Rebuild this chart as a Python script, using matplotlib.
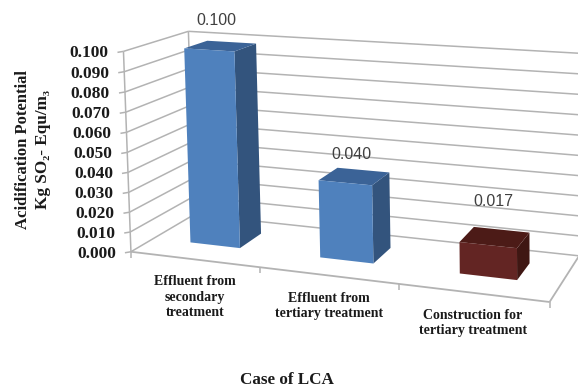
import numpy as np
import matplotlib
matplotlib.use("Agg")
import matplotlib.pyplot as plt

# Data
categories = ["Effluent from\nsecondary\ntreatment",
              "Effluent from\ntertiary treatment",
              "Construction for\ntertiary treatment"]
values = [0.100, 0.040, 0.017]
value_labels = ["0.100", "0.040", "0.017"]
yticks = [0.000, 0.010, 0.020, 0.030, 0.040, 0.050, 0.060, 0.070, 0.080, 0.090, 0.100]
ytick_labels = ["0.000", "0.010", "0.020", "0.030", "0.040", "0.050",
                "0.060", "0.070", "0.080", "0.090", "0.100"]

# Colores de cada barra: frente, lado, tapa
front_colors = ["#4f81bd", "#4f81bd", "#632523"]
side_colors = ["#33547d", "#33547d", "#3f1713"]
top_colors = ["#3b6397", "#3b6397", "#4c1b17"]
grid_color = "#b3b3b3"

# Esquinas de la caja 3D en la imagen, para calibrar la perspectiva
# (categoria, valor, profundidad) -> pixel
world = [(0, 0, 0), (3, 0, 0), (0, 0, 1), (3, 0, 1), (0, .1, 0), (0, .1, 1), (3, .1, 1)]
pixel = [(132, 252), (550, 301), (193, 214), (579, 257), (122, 52), (190, 31), (579, 53)]

rows = []
for (c, v, d), (px, py) in zip(world, pixel):
    w = [c, v * 10, d, 1]
    rows.append(w + [0, 0, 0, 0] + [-px * a for a in w])
    rows.append([0, 0, 0, 0] + w + [-py * a for a in w])
P = np.linalg.svd(np.array(rows, dtype=float))[2][-1].reshape(3, 4)


def proj(c, v, d):
    h = P @ np.array([c, v * 10, d, 1.0])
    return h[0] / h[2], h[1] / h[2]


fig = plt.figure(figsize=(5.78, 3.89), dpi=100)
ax = fig.add_axes([0, 0, 1, 1])
ax.set_xlim(0, 578)
ax.set_ylim(389, 0)
ax.axis("off")


def line(a, b, lw=1.1):
    ax.plot([a[0], b[0]], [a[1], b[1]], color=grid_color, lw=lw, zorder=1,
            solid_capstyle="butt", clip_on=True)


# Paredes y piso
for t in yticks:
    front = proj(0, t, 0)
    back = proj(0, t, 1)
    right = proj(3, t, 1)
    line((front[0] - 6, front[1] + 1), front)
    line(front, back)
    line(back, right)
line(proj(0, 0, 0), proj(0, .1, 0))
line(proj(0, 0, 1), proj(0, .1, 1))
line(proj(0, 0, 0), proj(3, 0, 0), lw=1.3)
line(proj(3, 0, 0), proj(3, 0, 1), lw=1.3)
for c in range(4):
    x, y = proj(c, 0, 0)
    line((x, y), (x, y + 6))

# Barras
bar_width = 0.39
bar_shift = 0.035
bar_base = 0.002
d0, d1 = 0.26, 0.63
label_offsets = [(-11, -21), (-7, -15), (-3, -28)]
for i, val in enumerate(values):
    c0 = i + 0.5 + bar_shift - bar_width / 2
    c1 = i + 0.5 + bar_shift + bar_width / 2
    ax.fill(*zip(proj(c1, bar_base, d0), proj(c1, bar_base, d1), proj(c1, val, d1), proj(c1, val, d0)),
            color=side_colors[i], lw=0, zorder=3)
    ax.fill(*zip(proj(c0, val, d0), proj(c1, val, d0), proj(c1, val, d1), proj(c0, val, d1)),
            color=top_colors[i], lw=0, zorder=3)
    ax.fill(*zip(proj(c0, bar_base, d0), proj(c1, bar_base, d0), proj(c1, val, d0), proj(c0, val, d0)),
            color=front_colors[i], lw=0, zorder=4)
    lx, ly = proj(i + 0.5, val, d1)
    ax.text(lx + label_offsets[i][0], ly + label_offsets[i][1], value_labels[i],
            ha="center", va="center", fontsize=11.5,
            family="Liberation Sans", color="#404040", zorder=5)

# Etiquetas del eje Y
for t, lab in zip(yticks, ytick_labels):
    x, y = proj(0, t, 0)
    ax.text(x - 15, y + 2, lab, ha="right", va="center", fontsize=12.5,
            family="Liberation Serif", weight="bold", color="#1a1a1a")

# Etiquetas de categorias
cat_pos = [(195, 297), (329, 306), (473, 323)]
for (x, y), lab in zip(cat_pos, categories):
    ax.text(x, y, lab, ha="center", va="center", fontsize=10, linespacing=1.25,
            family="Liberation Serif", weight="bold", color="#1a1a1a")

ax.text(23, 149, "Acidification Potential", rotation=90, ha="center", va="center",
        fontsize=12, family="Liberation Serif", weight="bold", color="#1a1a1a")
ax.text(43, 149, "Kg SO\u2082- Equ/m\u2083", rotation=90, ha="center", va="center",
        fontsize=12.3, family=["Liberation Serif", "DejaVu Serif"], weight="bold", color="#1a1a1a")
ax.text(287, 380.5, "Case of LCA", ha="center", va="center", fontsize=12.3,
        family="Liberation Serif", weight="bold", color="#1a1a1a")

fig.savefig("out.png", dpi=100, facecolor="white")
